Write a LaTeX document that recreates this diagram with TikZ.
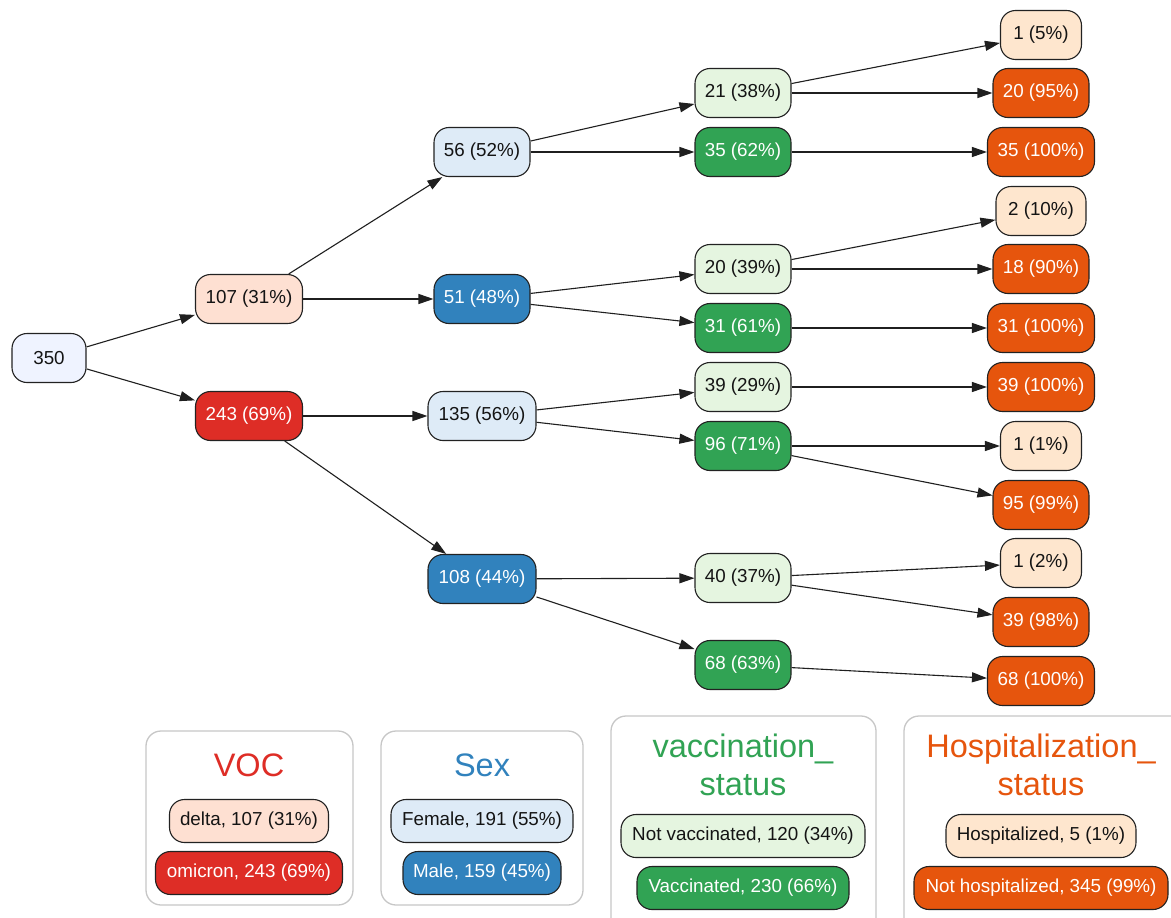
\documentclass[tikz,border=0pt]{standalone}
\usepackage{fontspec}
\setmainfont{Liberation Sans}
\usetikzlibrary{arrows.meta}
\definecolor{cRoot}{HTML}{EFF3FF}
\definecolor{cDelta}{HTML}{FEE0D2}
\definecolor{cOmi}{HTML}{DE2D26}
\definecolor{cFem}{HTML}{DEEBF7}
\definecolor{cMale}{HTML}{3182BD}
\definecolor{cNotVac}{HTML}{E5F5E0}
\definecolor{cVac}{HTML}{31A354}
\definecolor{cHosp}{HTML}{FEE6CE}
\definecolor{cNotHosp}{HTML}{E6550D}
\definecolor{cBorder}{HTML}{222222}
\begin{document}
\begin{tikzpicture}[x=1pt,y=-1pt,
  nd/.style={draw=cBorder, line width=1.1pt, rounded corners=15pt, minimum height=49pt,
    inner sep=0pt, font=\fontsize{18.8}{22}\selectfont, minimum width=#1},
  li/.style={draw=cBorder, line width=1.1pt, rounded corners=15pt, minimum height=43pt,
    inner sep=0pt, font=\fontsize{18.8}{22}\selectfont, minimum width=#1},
  lt/.style={fill=#1, text=black!92},
  dk/.style={fill=#1, text=white},
  ed/.style={-{Triangle[length=15pt,width=10pt]}, line width=1.1pt, draw=black!88},
  lgbox/.style={draw=black!22, line width=1.3pt, rounded corners=15pt},
  ttl/.style={anchor=base, inner sep=0pt, font=\fontsize{32.5}{39}\selectfont, text=#1}
]
\useasboundingbox (0,0) rectangle (1171,918);
\fill[white] (0,0) rectangle (1171,918);

% tree nodes
\node[nd=74, lt=cRoot] (r) at (49,358) {350};
\node[nd=107, lt=cDelta] (d) at (249,299) {107 (31\%)};
\node[nd=107, dk=cOmi] (o) at (249,416) {243 (69\%)};

\node[nd=96, lt=cFem] (s1) at (482,152) {56 (52\%)};
\node[nd=96, dk=cMale] (s2) at (482,299) {51 (48\%)};
\node[nd=108, lt=cFem] (s3) at (482,416) {135 (56\%)};
\node[nd=108, dk=cMale] (s4) at (482,579) {108 (44\%)};

\node[nd=96, lt=cNotVac] (v1) at (743,93) {21 (38\%)};
\node[nd=96, dk=cVac] (v2) at (743,152) {35 (62\%)};
\node[nd=96, lt=cNotVac] (v3) at (743,269) {20 (39\%)};
\node[nd=96, dk=cVac] (v4) at (743,328) {31 (61\%)};
\node[nd=96, lt=cNotVac] (v5) at (743,387) {39 (29\%)};
\node[nd=96, dk=cVac] (v6) at (743,446) {96 (71\%)};
\node[nd=96, lt=cNotVac] (v7) at (743,578) {40 (37\%)};
\node[nd=96, dk=cVac] (v8) at (743,665) {68 (63\%)};

\node[nd=81, lt=cHosp] (h1) at (1041,35) {1 (5\%)};
\node[nd=96, dk=cNotHosp] (h2) at (1041,93) {20 (95\%)};
\node[nd=107, dk=cNotHosp] (h3) at (1041,152) {35 (100\%)};
\node[nd=90, lt=cHosp] (h4) at (1041,211) {2 (10\%)};
\node[nd=96, dk=cNotHosp] (h5) at (1041,269) {18 (90\%)};
\node[nd=107, dk=cNotHosp] (h6) at (1041,328) {31 (100\%)};
\node[nd=107, dk=cNotHosp] (h7) at (1041,387) {39 (100\%)};
\node[nd=81, lt=cHosp] (h8) at (1041,446) {1 (1\%)};
\node[nd=96, dk=cNotHosp] (h9) at (1041,505) {95 (99\%)};
\node[nd=81, lt=cHosp] (h10) at (1041,563) {1 (2\%)};
\node[nd=96, dk=cNotHosp] (h11) at (1041,622) {39 (98\%)};
\node[nd=107, dk=cNotHosp] (h12) at (1041,681) {68 (100\%)};

% edges
\draw[ed] (r) -- (d);
\draw[ed] (r) -- (o);
\draw[ed] (d) -- (s1);
\draw[ed] (d) -- (s2);
\draw[ed] (o) -- (s3);
\draw[ed] (o) -- (s4);
\draw[ed] (s1) -- (v1);
\draw[ed] (s1) -- (v2);
\draw[ed] (s2) -- (v3);
\draw[ed] (s2) -- (v4);
\draw[ed] (s3) -- (v5);
\draw[ed] (s3) -- (v6);
\draw[ed] (s4) -- (v7);
\draw[ed] (s4) -- (v8);
\draw[ed] (v1) -- (h1);
\draw[ed] (v1) -- (h2);
\draw[ed] (v2) -- (h3);
\draw[ed] (v3) -- (h4);
\draw[ed] (v3) -- (h5);
\draw[ed] (v4) -- (h6);
\draw[ed] (v5) -- (h7);
\draw[ed] (v6) -- (h8);
\draw[ed] (v6) -- (h9);
\draw[ed] (v7) -- (h10);
\draw[ed] (v7) -- (h11);
\draw[ed] (v8) -- (h12);

% legend boxes
\draw[lgbox] (146,731) rectangle (353,905);
\draw[lgbox] (381,731) rectangle (583,905);
\draw[lgbox] (611,716) rectangle (876,940);
\draw[lgbox] (904,716) rectangle (1200,940);

\node[ttl=cOmi] (tVOC) at (249,776) {VOC};
\node[ttl=cMale] (tSex) at (482,776) {Sex};
\node[ttl=cVac] (tVa) at (743,757) {vaccination\_};
\node[ttl=cVac] (tVb) at (743,795) {status};
\node[ttl=cNotHosp] (tHa) at (1041,757) {Hospitalization\_};
\node[ttl=cNotHosp] (tHb) at (1041,795) {status};

\node[li=159, lt=cDelta] (lg1) at (249,821) {delta, 107 (31\%)};
\node[li=187, dk=cOmi] (lg2) at (249,873) {omicron, 243 (69\%)};
\node[li=182, lt=cFem] (lg3) at (482,821) {Female, 191 (55\%)};
\node[li=158, dk=cMale] (lg4) at (482,873) {Male, 159 (45\%)};
\node[li=244, lt=cNotVac] (lg5) at (743,836) {Not vaccinated, 120 (34\%)};
\node[li=212, dk=cVac] (lg6) at (743,888) {Vaccinated, 230 (66\%)};
\node[li=190, lt=cHosp] (lg7) at (1041,836) {Hospitalized, 5 (1\%)};
\node[li=254, dk=cNotHosp] (lg8) at (1041,888) {Not hospitalized, 345 (99\%)};
\end{tikzpicture}
\end{document}
